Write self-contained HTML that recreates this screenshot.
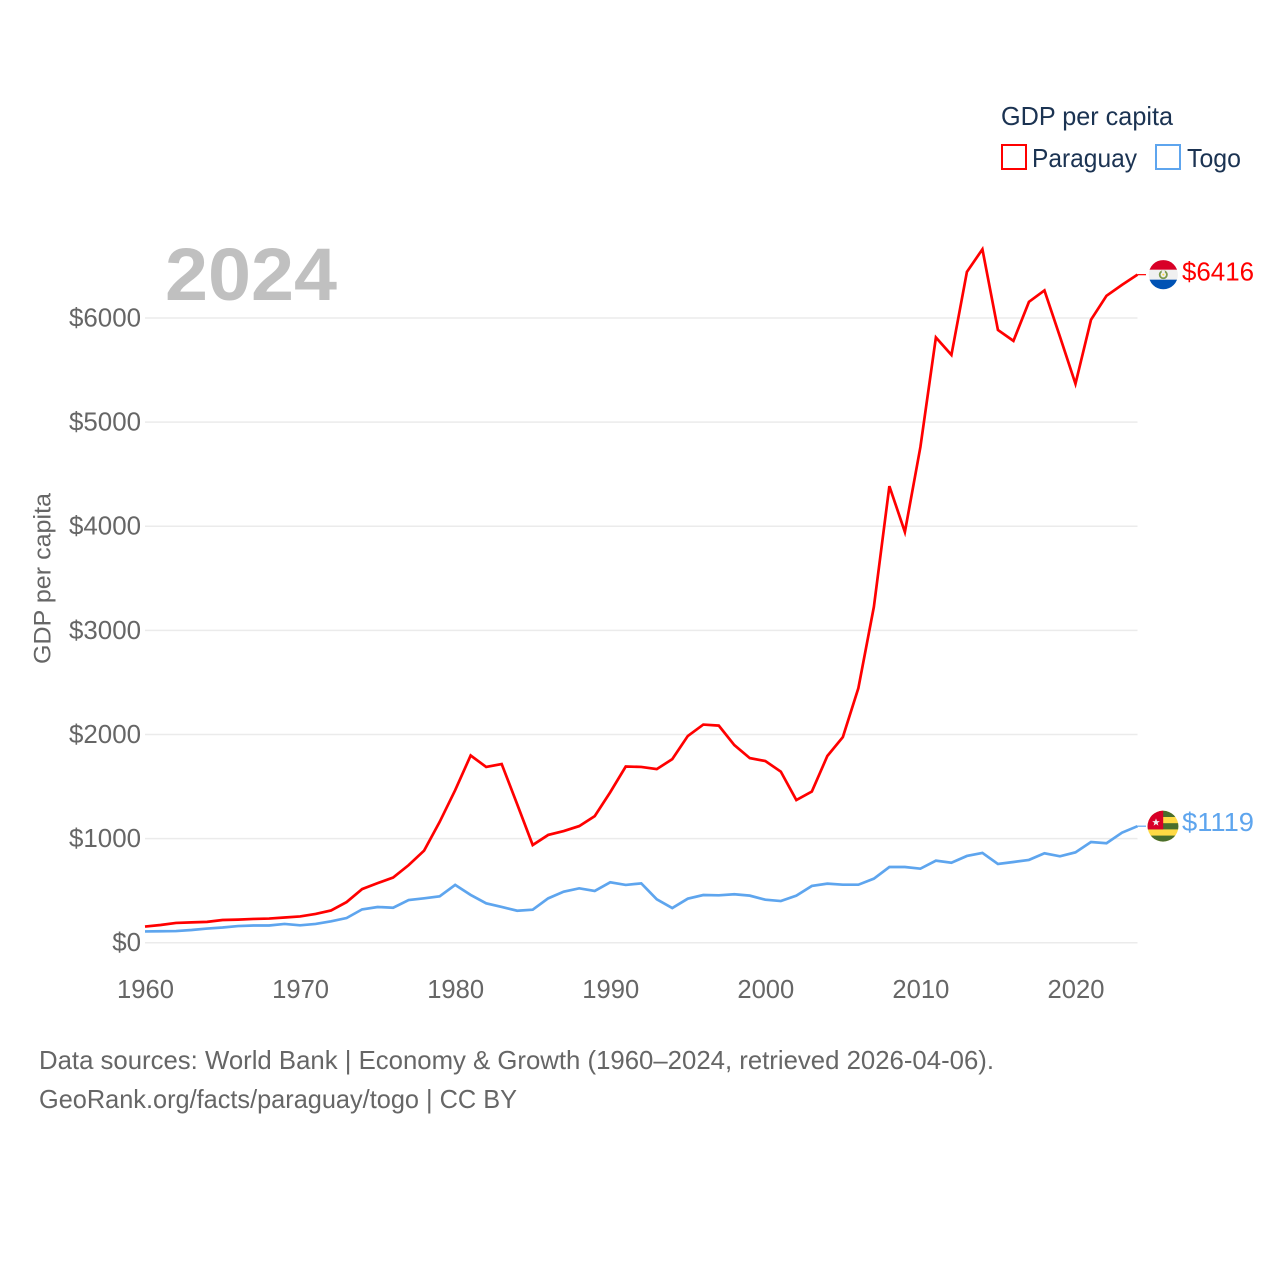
<!DOCTYPE html>
<html lang="en">
<head>
<meta charset="utf-8">
<title>GDP per capita: Paraguay and Togo</title>
<style>
html,body{margin:0;padding:0;background:#fff;}
svg{display:block;font-family:"Liberation Sans",sans-serif;}
</style>
</head>
<body>
<svg id="chart" width="1280" height="1280" viewBox="0 0 1280 1280" xmlns="http://www.w3.org/2000/svg">
  <defs>
    <clipPath id="flag-clip-py"><circle cx="0" cy="0" r="14.6"></circle></clipPath>
    <clipPath id="flag-clip-tg"><circle cx="0" cy="0" r="15.4"></circle></clipPath>
  </defs>
  <g id="grid"></g>
  <g id="y-ticks"></g>
  <g id="x-ticks"></g>
  <text transform="translate(50.5,664) rotate(-90)" font-size="24.5" fill="#666666" textLength="171" lengthAdjust="spacingAndGlyphs">GDP per capita</text>
  <text x="165" y="300" font-size="74" font-weight="700" fill="#c0c0c0" textLength="172" lengthAdjust="spacingAndGlyphs">2024</text>
  <g id="series"></g>
  <g id="flag-paraguay">
    <g clip-path="url(#flag-clip-py)">
      <rect x="-16" y="-16" width="32" height="32" fill="#f0f0f0"></rect>
      <rect x="-16" y="-16" width="32" height="11" fill="#d80027"></rect>
      <rect x="-16" y="5" width="32" height="11" fill="#0052b4"></rect>
      <circle cx="0" cy="0" r="3.6" fill="none" stroke="#7c9a4c" stroke-width="1.8"></circle>
      <circle cx="0" cy="-3" r="1.6" fill="#f0f0f0"></circle>
      <circle cx="0" cy="0" r="1" fill="#ffda44"></circle>
    </g>
  </g>
  <g id="flag-togo">
    <g clip-path="url(#flag-clip-tg)">
      <rect x="-16" y="-16" width="32" height="32" fill="#ffda44"></rect>
      <rect x="-16" y="-16" width="32" height="6.8" fill="#496e2d"></rect>
      <rect x="-16" y="-3" width="32" height="6.2" fill="#496e2d"></rect>
      <rect x="-16" y="9.4" width="32" height="6.6" fill="#496e2d"></rect>
      <rect x="-16" y="-16" width="16.2" height="19.2" fill="#d80027"></rect>
      <polygon points="-7,-7.8 -6,-5.1 -3.2,-5.1 -5.4,-3.3 -4.6,-0.6 -7,-2.2 -9.4,-0.6 -8.6,-3.3 -10.8,-5.1 -8,-5.1" fill="#f0f0f0"></polygon>
    </g>
  </g>
  <g id="end-labels"></g>
  <g id="legend">
    <text x="1001" y="125" font-size="26" fill="#1b3352" textLength="172" lengthAdjust="spacingAndGlyphs">GDP per capita</text>
    <g>
      <rect x="1002" y="145" width="24" height="24" fill="none" stroke="#ff0000" stroke-width="2"></rect>
      <text x="1032" y="167" font-size="26" fill="#1b3352" textLength="105" lengthAdjust="spacingAndGlyphs">Paraguay</text>
    </g>
    <g>
      <rect x="1156" y="145" width="24" height="24" fill="none" stroke="#5ea5ee" stroke-width="2"></rect>
      <text x="1187" y="167" font-size="26" fill="#1b3352" textLength="54" lengthAdjust="spacingAndGlyphs">Togo</text>
    </g>
  </g>
  <g>
    <text x="39" y="1069" font-size="26" fill="#666666" textLength="955" lengthAdjust="spacingAndGlyphs">Data sources: World Bank | Economy &amp; Growth (1960–2024, retrieved 2026-04-06).</text>
    <text x="39" y="1108" font-size="26" fill="#666666" textLength="478" lengthAdjust="spacingAndGlyphs">GeoRank.org/facts/paraguay/togo | CC BY</text>
  </g>
</svg>
<script>
const firstYear = 1960;
const lastYear = 2024;
const yTickValues = [0, 1000, 2000, 3000, 4000, 5000, 6000];
const xTickYears = [1960, 1970, 1980, 1990, 2000, 2010, 2020];
const paraguayValues = [155, 170, 190, 195, 200, 218, 222, 228, 232, 242, 252, 276, 310, 390, 515, 572, 626, 745, 885, 1160, 1465, 1798, 1688, 1716, 1330, 938, 1035, 1072, 1120, 1216, 1445, 1692, 1688, 1667, 1763, 1985, 2095, 2085, 1898, 1773, 1745, 1643, 1370, 1452, 1793, 1975, 2445, 3225, 4385, 3945, 4760, 5813, 5645, 6443, 6660, 5885, 5780, 6155, 6265, 5820, 5368, 5983, 6213, 6318, 6416];
const togoValues = [108, 110, 112, 122, 136, 146, 160, 165, 165, 180, 167, 180, 205, 237, 320, 343, 336, 410, 426, 445, 555, 459, 378, 343, 307, 317, 426, 490, 522, 497, 580, 555, 570, 417, 333, 423, 458, 455, 465, 452, 413, 400, 452, 545, 567, 557, 557, 615, 727, 727, 711, 788, 768, 833, 862, 756, 775, 795, 859, 830, 868, 967, 955, 1057, 1119];

const NS = 'http://www.w3.org/2000/svg';
const RED = '#ff0000';
const BLUE = '#5ea5ee';

function xScale(year) {
  return 145 + (year - firstYear) * (1137.5 - 145) / (lastYear - firstYear);
}
function yScale(value) {
  return 942.7 - value * 0.10412;
}
function make(tag, attrs, parent) {
  const el = document.createElementNS(NS, tag);
  Object.keys(attrs).forEach(function (k) { el.setAttribute(k, attrs[k]); });
  parent.appendChild(el);
  return el;
}

const gridGroup = document.getElementById('grid');
const yTickGroup = document.getElementById('y-ticks');
yTickValues.forEach(function (v) {
  const line = make('line', { x1: 145, x2: 1137.5, y1: yScale(v), y2: yScale(v), stroke: '#ebebeb', 'stroke-width': 1.5 }, gridGroup);
  
  
  const label = make('text', { x: 141, y: yScale(v) + 8.5, 'text-anchor': 'end', 'font-size': 25.9, fill: '#666666' }, yTickGroup);
  label.textContent = '$' + v;
  
  
});

const xTickGroup = document.getElementById('x-ticks');
xTickYears.forEach(function (yr) {
  const label = make('text', { x: xScale(yr) + 0.5, y: 998, 'text-anchor': 'middle', 'font-size': 25.6, fill: '#666666' }, xTickGroup);
  label.textContent = String(yr);
  
  
});

function linePath(values) {
  return values.map(function (v, i) {
    return (i ? 'L' : 'M') + xScale(firstYear + i).toFixed(2) + ' ' + yScale(v).toFixed(2);
  }).join(' ');
}

const seriesGroup = document.getElementById('series');
const togoLine = make('path', { d: linePath(togoValues), fill: 'none', stroke: BLUE, 'stroke-width': 2.7, 'stroke-linejoin': 'miter' }, seriesGroup);


const paraguayLine = make('path', { d: linePath(paraguayValues), fill: 'none', stroke: RED, 'stroke-width': 2.7, 'stroke-linejoin': 'miter' }, seriesGroup);



const endGroup = document.getElementById('end-labels');
const paraguayLast = paraguayValues[paraguayValues.length - 1];
const togoLast = togoValues[togoValues.length - 1];

const paraguayConnector = make('line', { x1: 1137.5, x2: 1146, y1: yScale(paraguayLast), y2: yScale(paraguayLast), stroke: RED, 'stroke-width': 1.2 }, endGroup);


const paraguayLabel = make('text', { x: 1182, y: yScale(paraguayLast) + 6, 'font-size': 25.6, fill: RED, textLength: 72, lengthAdjust: 'spacingAndGlyphs' }, endGroup);
paraguayLabel.textContent = '$' + paraguayLast;



const togoConnector = make('line', { x1: 1137.5, x2: 1146, y1: yScale(togoLast), y2: yScale(togoLast), stroke: BLUE, 'stroke-width': 1.2 }, endGroup);


const togoLabel = make('text', { x: 1182, y: yScale(togoLast) + 5, 'font-size': 25.6, fill: BLUE, textLength: 72, lengthAdjust: 'spacingAndGlyphs' }, endGroup);
togoLabel.textContent = '$' + togoLast;



document.getElementById('flag-paraguay').setAttribute('transform', 'translate(1163.3,' + yScale(paraguayLast) + ')');
document.getElementById('flag-togo').setAttribute('transform', 'translate(1163,' + yScale(togoLast) + ')');
</script>
</body>
</html>
